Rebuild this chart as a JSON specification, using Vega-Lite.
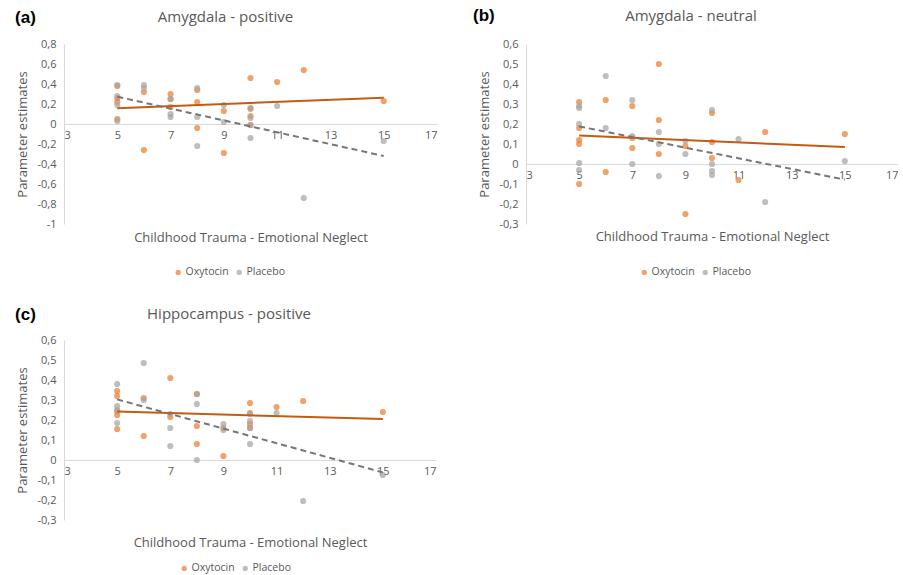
{
  "$schema": "https://vega.github.io/schema/vega-lite/v6.json",
  "background": "white",
  "padding": {"left": 15, "top": 7, "right": 0, "bottom": 0},
  "datasets": {
    "a_points": [
      {"group": "Oxytocin", "trauma": 5, "estimate": 0.38},
      {"group": "Oxytocin", "trauma": 5, "estimate": 0.26},
      {"group": "Oxytocin", "trauma": 5, "estimate": 0.22},
      {"group": "Oxytocin", "trauma": 5, "estimate": 0.05},
      {"group": "Oxytocin", "trauma": 6, "estimate": 0.32},
      {"group": "Oxytocin", "trauma": 6, "estimate": -0.26},
      {"group": "Oxytocin", "trauma": 7, "estimate": 0.30},
      {"group": "Oxytocin", "trauma": 7, "estimate": 0.25},
      {"group": "Oxytocin", "trauma": 7, "estimate": 0.17},
      {"group": "Oxytocin", "trauma": 8, "estimate": 0.34},
      {"group": "Oxytocin", "trauma": 8, "estimate": 0.22},
      {"group": "Oxytocin", "trauma": 8, "estimate": -0.04},
      {"group": "Oxytocin", "trauma": 9, "estimate": 0.13},
      {"group": "Oxytocin", "trauma": 9, "estimate": -0.29},
      {"group": "Oxytocin", "trauma": 10, "estimate": 0.46},
      {"group": "Oxytocin", "trauma": 10, "estimate": 0.16},
      {"group": "Oxytocin", "trauma": 10, "estimate": 0.08},
      {"group": "Oxytocin", "trauma": 10, "estimate": -0.01},
      {"group": "Oxytocin", "trauma": 11, "estimate": 0.42},
      {"group": "Oxytocin", "trauma": 12, "estimate": 0.54},
      {"group": "Oxytocin", "trauma": 15, "estimate": 0.23},
      {"group": "Placebo", "trauma": 5, "estimate": 0.39},
      {"group": "Placebo", "trauma": 5, "estimate": 0.28},
      {"group": "Placebo", "trauma": 5, "estimate": 0.19},
      {"group": "Placebo", "trauma": 5, "estimate": 0.03},
      {"group": "Placebo", "trauma": 6, "estimate": 0.39},
      {"group": "Placebo", "trauma": 6, "estimate": 0.36},
      {"group": "Placebo", "trauma": 7, "estimate": 0.25},
      {"group": "Placebo", "trauma": 7, "estimate": 0.10},
      {"group": "Placebo", "trauma": 7, "estimate": 0.07},
      {"group": "Placebo", "trauma": 8, "estimate": 0.36},
      {"group": "Placebo", "trauma": 8, "estimate": 0.07},
      {"group": "Placebo", "trauma": 8, "estimate": -0.22},
      {"group": "Placebo", "trauma": 9, "estimate": 0.19},
      {"group": "Placebo", "trauma": 9, "estimate": 0.02},
      {"group": "Placebo", "trauma": 10, "estimate": 0.15},
      {"group": "Placebo", "trauma": 10, "estimate": 0.06},
      {"group": "Placebo", "trauma": 10, "estimate": -0.01},
      {"group": "Placebo", "trauma": 10, "estimate": -0.14},
      {"group": "Placebo", "trauma": 11, "estimate": 0.18},
      {"group": "Placebo", "trauma": 12, "estimate": -0.74},
      {"group": "Placebo", "trauma": 15, "estimate": -0.17}
    ],
    "a_trend": [
      {"group": "Oxytocin", "trauma": 5, "estimate": 0.157},
      {"group": "Oxytocin", "trauma": 15, "estimate": 0.263},
      {"group": "Placebo", "trauma": 5, "estimate": 0.273},
      {"group": "Placebo", "trauma": 15, "estimate": -0.32}
    ],
    "b_points": [
      {"group": "Oxytocin", "trauma": 5, "estimate": 0.31},
      {"group": "Oxytocin", "trauma": 5, "estimate": 0.18},
      {"group": "Oxytocin", "trauma": 5, "estimate": 0.12},
      {"group": "Oxytocin", "trauma": 5, "estimate": 0.10},
      {"group": "Oxytocin", "trauma": 5, "estimate": -0.10},
      {"group": "Oxytocin", "trauma": 6, "estimate": 0.32},
      {"group": "Oxytocin", "trauma": 6, "estimate": -0.04},
      {"group": "Oxytocin", "trauma": 7, "estimate": 0.29},
      {"group": "Oxytocin", "trauma": 7, "estimate": 0.13},
      {"group": "Oxytocin", "trauma": 7, "estimate": 0.08},
      {"group": "Oxytocin", "trauma": 8, "estimate": 0.50},
      {"group": "Oxytocin", "trauma": 8, "estimate": 0.22},
      {"group": "Oxytocin", "trauma": 8, "estimate": 0.05},
      {"group": "Oxytocin", "trauma": 9, "estimate": 0.09},
      {"group": "Oxytocin", "trauma": 9, "estimate": -0.25},
      {"group": "Oxytocin", "trauma": 10, "estimate": 0.255},
      {"group": "Oxytocin", "trauma": 10, "estimate": 0.11},
      {"group": "Oxytocin", "trauma": 10, "estimate": 0.03},
      {"group": "Oxytocin", "trauma": 11, "estimate": -0.08},
      {"group": "Oxytocin", "trauma": 12, "estimate": 0.16},
      {"group": "Oxytocin", "trauma": 15, "estimate": 0.15},
      {"group": "Placebo", "trauma": 5, "estimate": 0.29},
      {"group": "Placebo", "trauma": 5, "estimate": 0.28},
      {"group": "Placebo", "trauma": 5, "estimate": 0.20},
      {"group": "Placebo", "trauma": 5, "estimate": 0.005},
      {"group": "Placebo", "trauma": 5, "estimate": -0.03},
      {"group": "Placebo", "trauma": 6, "estimate": 0.44},
      {"group": "Placebo", "trauma": 6, "estimate": 0.18},
      {"group": "Placebo", "trauma": 7, "estimate": 0.32},
      {"group": "Placebo", "trauma": 7, "estimate": 0.14},
      {"group": "Placebo", "trauma": 7, "estimate": 0.0},
      {"group": "Placebo", "trauma": 8, "estimate": 0.16},
      {"group": "Placebo", "trauma": 8, "estimate": 0.10},
      {"group": "Placebo", "trauma": 8, "estimate": -0.06},
      {"group": "Placebo", "trauma": 9, "estimate": 0.115},
      {"group": "Placebo", "trauma": 9, "estimate": 0.05},
      {"group": "Placebo", "trauma": 10, "estimate": 0.27},
      {"group": "Placebo", "trauma": 10, "estimate": 0.0},
      {"group": "Placebo", "trauma": 10, "estimate": -0.035},
      {"group": "Placebo", "trauma": 10, "estimate": -0.055},
      {"group": "Placebo", "trauma": 11, "estimate": 0.125},
      {"group": "Placebo", "trauma": 12, "estimate": -0.19},
      {"group": "Placebo", "trauma": 15, "estimate": 0.015}
    ],
    "b_trend": [
      {"group": "Oxytocin", "trauma": 5, "estimate": 0.142},
      {"group": "Oxytocin", "trauma": 15, "estimate": 0.085},
      {"group": "Placebo", "trauma": 5, "estimate": 0.188},
      {"group": "Placebo", "trauma": 15, "estimate": -0.078}
    ],
    "c_points": [
      {"group": "Oxytocin", "trauma": 5, "estimate": 0.345},
      {"group": "Oxytocin", "trauma": 5, "estimate": 0.32},
      {"group": "Oxytocin", "trauma": 5, "estimate": 0.245},
      {"group": "Oxytocin", "trauma": 5, "estimate": 0.225},
      {"group": "Oxytocin", "trauma": 5, "estimate": 0.155},
      {"group": "Oxytocin", "trauma": 6, "estimate": 0.31},
      {"group": "Oxytocin", "trauma": 6, "estimate": 0.12},
      {"group": "Oxytocin", "trauma": 7, "estimate": 0.41},
      {"group": "Oxytocin", "trauma": 7, "estimate": 0.215},
      {"group": "Oxytocin", "trauma": 8, "estimate": 0.33},
      {"group": "Oxytocin", "trauma": 8, "estimate": 0.17},
      {"group": "Oxytocin", "trauma": 8, "estimate": 0.08},
      {"group": "Oxytocin", "trauma": 9, "estimate": 0.16},
      {"group": "Oxytocin", "trauma": 9, "estimate": 0.02},
      {"group": "Oxytocin", "trauma": 10, "estimate": 0.285},
      {"group": "Oxytocin", "trauma": 10, "estimate": 0.235},
      {"group": "Oxytocin", "trauma": 10, "estimate": 0.18},
      {"group": "Oxytocin", "trauma": 10, "estimate": 0.16},
      {"group": "Oxytocin", "trauma": 11, "estimate": 0.265},
      {"group": "Oxytocin", "trauma": 12, "estimate": 0.295},
      {"group": "Oxytocin", "trauma": 15, "estimate": 0.24},
      {"group": "Placebo", "trauma": 5, "estimate": 0.38},
      {"group": "Placebo", "trauma": 5, "estimate": 0.27},
      {"group": "Placebo", "trauma": 5, "estimate": 0.25},
      {"group": "Placebo", "trauma": 5, "estimate": 0.185},
      {"group": "Placebo", "trauma": 6, "estimate": 0.485},
      {"group": "Placebo", "trauma": 6, "estimate": 0.30},
      {"group": "Placebo", "trauma": 7, "estimate": 0.23},
      {"group": "Placebo", "trauma": 7, "estimate": 0.16},
      {"group": "Placebo", "trauma": 7, "estimate": 0.07},
      {"group": "Placebo", "trauma": 8, "estimate": 0.33},
      {"group": "Placebo", "trauma": 8, "estimate": 0.28},
      {"group": "Placebo", "trauma": 8, "estimate": 0.0},
      {"group": "Placebo", "trauma": 9, "estimate": 0.18},
      {"group": "Placebo", "trauma": 9, "estimate": 0.15},
      {"group": "Placebo", "trauma": 10, "estimate": 0.23},
      {"group": "Placebo", "trauma": 10, "estimate": 0.195},
      {"group": "Placebo", "trauma": 10, "estimate": 0.16},
      {"group": "Placebo", "trauma": 10, "estimate": 0.08},
      {"group": "Placebo", "trauma": 11, "estimate": 0.235},
      {"group": "Placebo", "trauma": 12, "estimate": -0.205},
      {"group": "Placebo", "trauma": 15, "estimate": -0.075}
    ],
    "c_trend": [
      {"group": "Oxytocin", "trauma": 5, "estimate": 0.242},
      {"group": "Oxytocin", "trauma": 15, "estimate": 0.205},
      {"group": "Placebo", "trauma": 5, "estimate": 0.303},
      {"group": "Placebo", "trauma": 15, "estimate": -0.062}
    ]
  },
  "config": {
    "font": "Open Sans",
    "view": {"stroke": null},
    "axis": {
      "grid": false, "ticks": false, "domainColor": "#D9D9D9", "domainWidth": 1,
      "labelColor": "#595959", "labelFont": "Open Sans", "labelFontSize": 11,
      "titleColor": "#595959", "titleFont": "Open Sans", "titleFontSize": 13, "titleFontWeight": "normal",
      "labelOverlap": false
    },
    "title": {"color": "#595959", "font": "Open Sans", "fontSize": 15, "fontWeight": "normal", "anchor": "middle"},
    "legend": {"labelColor": "#595959", "labelFont": "Open Sans", "labelFontSize": 10.5, "symbolSize": 28, "symbolType": "circle", "columnPadding": 5, "labelOffset": 2, "padding": 0}
  },
  "spacing": 28,
  "resolve": {"scale": {"x": "independent", "y": "independent", "color": "independent"}, "legend": {"color": "independent"}},
  "vconcat": [
    {
      "spacing": 36,
      "resolve": {"scale": {"x": "independent", "y": "independent", "color": "independent"}, "legend": {"color": "independent"}},
      "hconcat": [
        {
          "title": {"text": "(a)", "anchor": "start", "frame": "bounds", "font": "Liberation Sans", "fontSize": 17, "fontWeight": "bold", "color": "#000000", "offset": -17, "dx": -1},
          "vconcat": [
            {
              "title": {"text": "Amygdala - positive", "offset": 13, "frame": "bounds", "dx": -1},
              "width": 373, "height": 180,
              "layer": [
                {
                  "data": {"name": "a_points"},
                  "mark": {"type": "circle", "size": 38, "opacity": 0.72},
                  "encoding": {
                    "x": {"field": "trauma", "type": "quantitative", "scale": {"domain": [3, 17], "nice": false, "zero": false},
                      "axis": {"values": [3, 5, 7, 9, 11, 13, 15, 17], "tickCount": 20, "format": "d", "offset": -100, "title": "Childhood Trauma - Emotional Neglect", "titleY": 113, "titleBaseline": "middle", "labelPadding": 5, "labelOverlap": false}},
                    "y": {"field": "estimate", "type": "quantitative", "scale": {"domain": [-1, 0.8], "nice": false},
                      "axis": {"values": [-1, -0.8, -0.6, -0.4, -0.2, 0, 0.2, 0.4, 0.6, 0.8], "tickCount": 20, "labelExpr": "replace(toString(round(datum.value*10)/10), '.', ',')", "title": "Parameter estimates", "labelPadding": 8, "titlePadding": 8, "labelOverlap": false}},
                    "color": {"field": "group", "type": "nominal", "scale": {"domain": ["Oxytocin", "Placebo"], "range": ["#ED7D31", "#A5A5A5"]},
                      "legend": {"orient": "none", "legendX": 109, "legendY": 223, "direction": "horizontal", "title": null}}
                  }
                },
                {
                  "data": {"name": "a_trend"},
                  "transform": [{"filter": "datum.group === 'Oxytocin'"}],
                  "mark": {"type": "line", "color": "#C55A11", "strokeWidth": 2},
                  "encoding": {"x": {"field": "trauma", "type": "quantitative"}, "y": {"field": "estimate", "type": "quantitative"}}
                },
                {
                  "data": {"name": "a_trend"},
                  "transform": [{"filter": "datum.group === 'Placebo'"}],
                  "mark": {"type": "line", "color": "#767676", "strokeWidth": 2, "strokeDash": [6, 4]},
                  "encoding": {"x": {"field": "trauma", "type": "quantitative"}, "y": {"field": "estimate", "type": "quantitative"}}
                }
              ]
            }
          ]
        },
        {
          "title": {"text": "(b)", "anchor": "start", "frame": "bounds", "font": "Liberation Sans", "fontSize": 17, "fontWeight": "bold", "color": "#000000", "offset": -16, "dx": -5},
          "vconcat": [
            {
              "title": {"text": "Amygdala - neutral", "offset": 14, "frame": "bounds", "dx": 3},
              "width": 372, "height": 180,
              "layer": [
                {
                  "data": {"name": "b_points"},
                  "mark": {"type": "circle", "size": 38, "opacity": 0.72},
                  "encoding": {
                    "x": {"field": "trauma", "type": "quantitative", "scale": {"domain": [3, 17], "nice": false, "zero": false},
                      "axis": {"values": [3, 5, 7, 9, 11, 13, 15, 17], "tickCount": 20, "format": "d", "offset": -60, "title": "Childhood Trauma - Emotional Neglect", "titleY": 72, "titleBaseline": "middle", "labelPadding": 5, "labelOverlap": false}},
                    "y": {"field": "estimate", "type": "quantitative", "scale": {"domain": [-0.3, 0.6], "nice": false},
                      "axis": {"values": [-0.3, -0.2, -0.1, 0, 0.1, 0.2, 0.3, 0.4, 0.5, 0.6], "tickCount": 20, "labelExpr": "replace(toString(round(datum.value*10)/10), '.', ',')", "title": "Parameter estimates", "labelPadding": 8, "titlePadding": 8, "labelOverlap": false}},
                    "color": {"field": "group", "type": "nominal", "scale": {"domain": ["Oxytocin", "Placebo"], "range": ["#ED7D31", "#A5A5A5"]},
                      "legend": {"orient": "none", "legendX": 113, "legendY": 223, "direction": "horizontal", "title": null}}
                  }
                },
                {
                  "data": {"name": "b_trend"},
                  "transform": [{"filter": "datum.group === 'Oxytocin'"}],
                  "mark": {"type": "line", "color": "#C55A11", "strokeWidth": 2},
                  "encoding": {"x": {"field": "trauma", "type": "quantitative"}, "y": {"field": "estimate", "type": "quantitative"}}
                },
                {
                  "data": {"name": "b_trend"},
                  "transform": [{"filter": "datum.group === 'Placebo'"}],
                  "mark": {"type": "line", "color": "#767676", "strokeWidth": 2, "strokeDash": [6, 4]},
                  "encoding": {"x": {"field": "trauma", "type": "quantitative"}, "y": {"field": "estimate", "type": "quantitative"}}
                }
              ]
            }
          ]
        }
      ]
    },
    {
      "title": {"text": "(c)", "anchor": "start", "frame": "bounds", "font": "Liberation Sans", "fontSize": 17, "fontWeight": "bold", "color": "#000000", "offset": -17, "dx": -1},
      "vconcat": [
        {
          "title": {"text": "Hippocampus - positive", "offset": 12, "frame": "bounds", "dx": 3},
          "width": 372, "height": 180,
          "layer": [
            {
              "data": {"name": "c_points"},
              "mark": {"type": "circle", "size": 38, "opacity": 0.72},
              "encoding": {
                "x": {"field": "trauma", "type": "quantitative", "scale": {"domain": [3, 17], "nice": false, "zero": false},
                  "axis": {"values": [3, 5, 7, 9, 11, 13, 15, 17], "tickCount": 20, "format": "d", "offset": -60, "title": "Childhood Trauma - Emotional Neglect", "titleY": 82, "titleBaseline": "middle", "labelPadding": 5, "labelOverlap": false}},
                "y": {"field": "estimate", "type": "quantitative", "scale": {"domain": [-0.3, 0.6], "nice": false},
                  "axis": {"values": [-0.3, -0.2, -0.1, 0, 0.1, 0.2, 0.3, 0.4, 0.5, 0.6], "tickCount": 20, "labelExpr": "replace(toString(round(datum.value*10)/10), '.', ',')", "title": "Parameter estimates", "labelPadding": 8, "titlePadding": 8, "labelOverlap": false}},
                "color": {"field": "group", "type": "nominal", "scale": {"domain": ["Oxytocin", "Placebo"], "range": ["#ED7D31", "#A5A5A5"]},
                  "legend": {"orient": "none", "legendX": 115, "legendY": 223, "direction": "horizontal", "title": null}}
              }
            },
            {
              "data": {"name": "c_trend"},
              "transform": [{"filter": "datum.group === 'Oxytocin'"}],
              "mark": {"type": "line", "color": "#C55A11", "strokeWidth": 2},
              "encoding": {"x": {"field": "trauma", "type": "quantitative"}, "y": {"field": "estimate", "type": "quantitative"}}
            },
            {
              "data": {"name": "c_trend"},
              "transform": [{"filter": "datum.group === 'Placebo'"}],
              "mark": {"type": "line", "color": "#767676", "strokeWidth": 2, "strokeDash": [6, 4]},
              "encoding": {"x": {"field": "trauma", "type": "quantitative"}, "y": {"field": "estimate", "type": "quantitative"}}
            }
          ]
        }
      ]
    }
  ]
}
